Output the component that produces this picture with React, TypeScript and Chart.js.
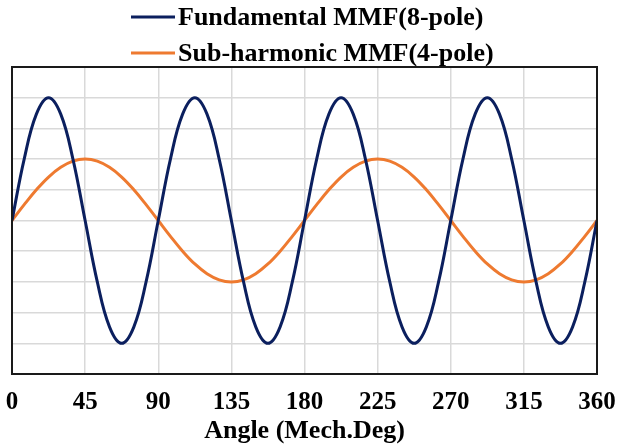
import React, { useEffect, useRef } from "react";
import { Chart, registerables } from "chart.js";

Chart.register(...registerables);

const angles = [
  0, 7.5, 15, 22.5, 30, 37.5, 45, 52.5, 60, 67.5, 75, 82.5,
  90, 97.5, 105, 112.5, 120, 127.5, 135, 142.5, 150, 157.5, 165, 172.5,
  180, 187.5, 195, 202.5, 210, 217.5, 225, 232.5, 240, 247.5, 255, 262.5,
  270, 277.5, 285, 292.5, 300, 307.5, 315, 322.5, 330, 337.5, 345, 352.5,
  360,
];

const fundamental = [
  0, 0.5, 0.866, 1, 0.866, 0.5, 0, -0.5, -0.866, -1, -0.866, -0.5,
  0, 0.5, 0.866, 1, 0.866, 0.5, 0, -0.5, -0.866, -1, -0.866, -0.5,
  0, 0.5, 0.866, 1, 0.866, 0.5, 0, -0.5, -0.866, -1, -0.866, -0.5,
  0, 0.5, 0.866, 1, 0.866, 0.5, 0, -0.5, -0.866, -1, -0.866, -0.5,
  0,
];

const subHarmonic = [
  0, 0.129, 0.25, 0.354, 0.433, 0.483, 0.5, 0.483, 0.433, 0.354, 0.25, 0.129,
  0, -0.129, -0.25, -0.354, -0.433, -0.483, -0.5, -0.483, -0.433, -0.354, -0.25, -0.129,
  0, 0.129, 0.25, 0.354, 0.433, 0.483, 0.5, 0.483, 0.433, 0.354, 0.25, 0.129,
  0, -0.129, -0.25, -0.354, -0.433, -0.483, -0.5, -0.483, -0.433, -0.354, -0.25, -0.129,
  0,
];

const xTicks = [0, 45, 90, 135, 180, 225, 270, 315, 360];
const seriesNames = ["Fundamental MMF(8-pole)", "Sub-harmonic MMF(4-pole)"];
const seriesColors = ["#0b1f5e", "#ee7a30"];
const xTitle = "Angle (Mech.Deg)";

const FONT = "'Liberation Serif', 'Times New Roman', serif";

const framePlugin = {
  id: "frameBorder",
  afterDatasetsDraw(chart: any) {
    const { ctx, chartArea } = chart;
    ctx.save();
    ctx.strokeStyle = "#1a1a1a";
    ctx.lineWidth = 2;
    ctx.strokeRect(chartArea.left, chartArea.top, chartArea.right - chartArea.left, chartArea.bottom - chartArea.top);
    ctx.restore();
  },
};

const legendPlugin = {
  id: "stackedLegend",
  afterDraw(chart: any) {
    const { ctx } = chart;
    const lineX0 = 131;
    const lineX1 = 175;
    const textX = 178;
    const rowY = [17, 53];
    ctx.save();
    ctx.font = `bold 26px ${FONT}`;
    ctx.textBaseline = "middle";
    ctx.textAlign = "left";
    chart.data.datasets.forEach((ds: any, i: number) => {
      const y = rowY[i];
      ctx.strokeStyle = ds.borderColor;
      ctx.lineWidth = 3;
      ctx.beginPath();
      ctx.moveTo(lineX0, y);
      ctx.lineTo(lineX1, y);
      ctx.stroke();
      ctx.fillStyle = "#000";
      ctx.fillText(ds.label, textX, y + 1);
    });
    ctx.restore();
  },
};

export default function App() {
  const ref = useRef<HTMLCanvasElement | null>(null);
  useEffect(() => {
    if (!ref.current) return;
    const chart = new Chart(ref.current, {
      type: "line",
      data: {
        datasets: [
          {
            label: seriesNames[0],
            data: angles.map((a, i) => ({ x: a, y: fundamental[i] })),
            borderColor: seriesColors[0],
            backgroundColor: seriesColors[0],
            borderWidth: 3,
            pointRadius: 0,
            tension: 0.4,
          },
          {
            label: seriesNames[1],
            data: angles.map((a, i) => ({ x: a, y: subHarmonic[i] })),
            borderColor: seriesColors[1],
            backgroundColor: seriesColors[1],
            borderWidth: 3,
            pointRadius: 0,
            tension: 0.4,
          },
        ],
      },
      options: {
        animation: false,
        responsive: true,
        maintainAspectRatio: false,
        layout: { padding: { left: 12, right: 20, top: 67, bottom: 2 } },
        plugins: {
          tooltip: { enabled: false },
          legend: { display: false },
        },
        scales: {
          x: {
            type: "linear",
            min: 0,
            max: 360,
            afterBuildTicks: (axis: any) => {
              axis.ticks = xTicks.map((v) => ({ value: v }));
            },
            ticks: {
              color: "#000",
              font: { family: FONT, size: 25, weight: "bold", lineHeight: 1 },
              padding: 0,
              maxRotation: 0,
            },
            grid: {
              color: "#d9d9d9",
              lineWidth: 1.5,
              drawTicks: true,
              tickLength: 16,
              tickColor: "rgba(0,0,0,0)",
            },
            border: { display: false },
            title: {
              display: true,
              text: xTitle,
              color: "#000",
              font: { family: FONT, size: 26, weight: "bold", lineHeight: 1 },
              padding: { top: 3, bottom: 0 },
            },
          },
          y: {
            min: -1.25,
            max: 1.25,
            ticks: { display: false, stepSize: 0.25 },
            grid: { color: "#d9d9d9", lineWidth: 1.5, drawTicks: false },
            border: { display: false },
          },
        },
      },
      plugins: [framePlugin, legendPlugin],
    } as any);
    return () => chart.destroy();
  }, []);
  return (
    <div style={{ position: "fixed", left: 0, top: 0, width: 617, height: 446, background: "#fff" }}>
      <canvas ref={ref} />
    </div>
  );
}
